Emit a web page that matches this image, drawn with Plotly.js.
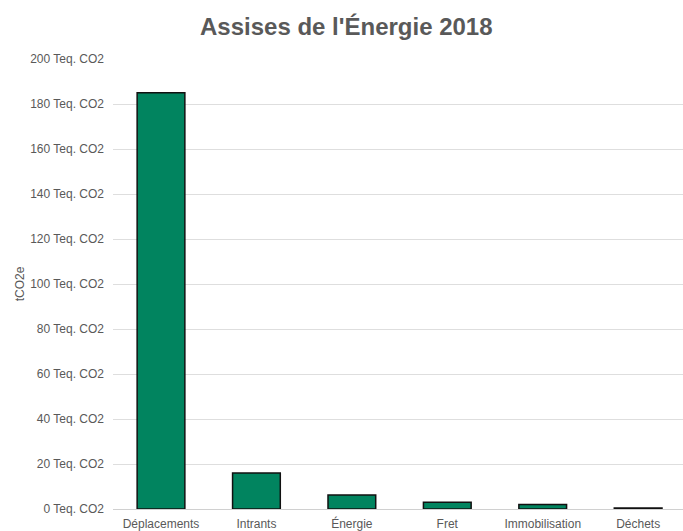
<!DOCTYPE html>
<html>
<head>
<meta charset="utf-8">
<script src="https://cdn.plot.ly/plotly-3.0.1.min.js"></script>
<style>html,body{margin:0;padding:0;background:#fff;}#chart{width:683px;height:531px;}</style>
</head>
<body>
<div id="chart"></div>
<script>
var categories = ["Déplacements", "Intrants", "Énergie", "Fret", "Immobilisation", "Déchets"];
var values = [185, 16, 6.2, 3, 2, 0.5];
var tickValues = [0, 20, 40, 60, 80, 100, 120, 140, 160, 180, 200];
var tickLabels = tickValues.map(function (v) { return v + " Teq. CO2"; });

var trace = {
  type: "bar",
  x: categories,
  y: values,
  width: 0.5,
  marker: { color: "#01845f", line: { color: "#111111", width: 1.5 } },
  hoverinfo: "x+y"
};

var layout = {
  width: 683,
  height: 531,
  margin: { l: 113, r: 0, t: 59, b: 22 },
  paper_bgcolor: "#ffffff",
  plot_bgcolor: "#ffffff",
  font: { family: "Liberation Sans, Arial, sans-serif", color: "#595959", size: 12 },
  title: {
    text: "<b>Assises de l'Énergie 2018</b>",
    font: { family: "Liberation Sans, Arial, sans-serif", size: 24, color: "#595959" },
    x: 0.507, xanchor: "center", y: 0.95, yanchor: "middle"
  },
  showlegend: false,
  xaxis: {
    type: "category",
    range: [-0.503, 5.47],
    showgrid: false,
    showline: false,
    ticks: "",
    ticklabelstandoff: 6,
    tickfont: { size: 12, color: "#595959" },
    fixedrange: true
  },
  yaxis: {
    range: [0, 200],
    tickvals: tickValues,
    ticktext: tickLabels,
    showgrid: true,
    gridcolor: "#dedede",
    gridwidth: 1,
    zeroline: true,
    zerolinecolor: "#d0d0d0",
    zerolinewidth: 1,
    ticks: "",
    ticklabelstandoff: 8,
    tickfont: { size: 12, color: "#595959" },
    title: { text: "tCO2e", font: { size: 12, color: "#595959" }, standoff: 2 },
    fixedrange: true
  }
};

Plotly.newPlot("chart", [trace], layout, { displayModeBar: false, staticPlot: true });
</script>
</body>
</html>
